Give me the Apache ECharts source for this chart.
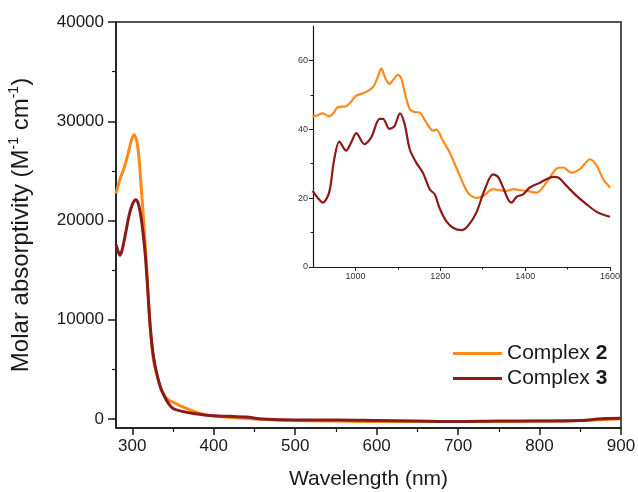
<!DOCTYPE html>
<html>
<head>
<meta charset="utf-8">
<script src="https://cdn.jsdelivr.net/npm/echarts@6/dist/echarts.min.js"></script>
<style>
  html, body { margin: 0; padding: 0; background: #fff; }
  #main { width: 638px; height: 492px; }
</style>
</head>
<body>
<div id="main"></div>
<script>
// main spectrum (280-900 nm)
const wl2 = [280, 285, 290, 295, 299, 302, 305, 308, 311, 314, 317, 320, 323, 326, 330, 335, 340, 345, 350, 360, 370, 380, 390, 400, 420, 450, 500, 550, 600, 650, 700, 750, 800, 850, 880, 900];
const abs2 = [22700, 24200, 25300, 26800, 28100, 28650, 28200, 26500, 23300, 19900, 16200, 11800, 8300, 6000, 4500, 3100, 2300, 1900, 1700, 1300, 950, 650, 450, 300, 150, 0, -150, -200, -250, -250, -250, -250, -200, -150, -50, 30];

const wl3 = [280, 283, 285, 288, 292, 296, 300, 304, 307, 310, 313, 316, 319, 322, 326, 330, 335, 340, 345, 350, 360, 375, 400, 420, 440, 460, 500, 550, 600, 650, 700, 750, 800, 850, 880, 900];
const abs3 = [17600, 16800, 16500, 17200, 18800, 20500, 21600, 22100, 21800, 20700, 18900, 16500, 13000, 9300, 6300, 4600, 3100, 2200, 1500, 1070, 800, 570, 330, 280, 200, 0, -100, -100, -150, -200, -250, -200, -200, -150, 50, 80];

// NIR inset (900-1600 nm)
const nirWl2 = [899, 910, 923, 938, 947, 958, 978, 990, 1000, 1025, 1041, 1052, 1061, 1070, 1080, 1090, 1100, 1108, 1116, 1128, 1140, 1151, 1167, 1183, 1191, 1206, 1222, 1246, 1265, 1285, 1301, 1324, 1340, 1356, 1372, 1390, 1403, 1427, 1450, 1474, 1490, 1509, 1529, 1553, 1569, 1584, 1600];
const nirAbs2 = [43.7, 44.0, 44.6, 43.8, 44.5, 46.4, 46.7, 48.0, 49.6, 50.8, 52.2, 55.0, 57.6, 55.0, 53.2, 54.5, 55.8, 54.8, 50.8, 45.9, 45.0, 44.9, 42.0, 39.6, 39.9, 36.7, 33.3, 26.5, 21.6, 20.1, 20.6, 22.6, 22.3, 22.1, 22.6, 22.3, 22.1, 21.6, 24.5, 28.6, 28.9, 27.4, 28.4, 31.3, 29.4, 25.5, 23.1];

const nirWl3 = [899, 911, 923, 938, 950, 962, 978, 990, 1002, 1021, 1037, 1057, 1065, 1080, 1092, 1105, 1116, 1128, 1143, 1159, 1175, 1187, 1198, 1214, 1230, 1250, 1265, 1285, 1305, 1324, 1336, 1348, 1360, 1368, 1380, 1395, 1411, 1435, 1466, 1478, 1498, 1522, 1545, 1569, 1600];
const nirAbs3 = [22.1, 20.1, 18.7, 21.6, 31.3, 36.4, 33.8, 36.2, 38.9, 35.7, 37.6, 43.0, 43.0, 40.1, 40.9, 44.6, 41.5, 34.2, 30.4, 27.4, 22.6, 21.1, 17.2, 13.3, 11.4, 10.7, 11.9, 15.8, 22.6, 26.9, 26.2, 23.1, 19.6, 18.7, 20.4, 21.1, 23.1, 24.5, 26.2, 26.0, 23.5, 20.6, 18.2, 16.0, 14.6];

const names = ['Complex 2', 'Complex 3'];
const colors = ['#ff8a1c', '#8b1a1a'];

// main axis ticks
const yLabels = [0, 10000, 20000, 30000, 40000];
const yMinor = [5000, 15000, 25000, 35000];
const xLabels = [300, 400, 500, 600, 700, 800, 900];
const xMinor = [350, 450, 550, 650, 750, 850];
// inset ticks
const nirYLabels = [0, 20, 40, 60];
const nirYMinor = [10, 30, 50];
const nirXLabels = [1000, 1200, 1400, 1600];
const nirXMinor = [1100, 1300, 1500];

const zip = (a, b) => a.map((v, i) => [v, b[i]]);
const plain = v => String(v);

const font = 'Liberation Sans, Arial, sans-serif';
const ink = '#1a1a1a';

const chart = echarts.init(document.getElementById('main'));

const baseLine = { lineStyle: { color: ink, width: 1.5 } };

const option = {
  animation: false,
  textStyle: { fontFamily: font },
  grid: [
    { left: 116, top: 22, right: 17, bottom: 64, outerBoundsMode: 'none', show: true, borderColor: ink, borderWidth: 1.5 },
    { left: 313, top: 26, right: 28, bottom: 225, outerBoundsMode: 'none' }
  ],
  legend: {
    orient: 'vertical',
    left: 453,
    top: 341,
    padding: 0,
    itemWidth: 49,
    itemHeight: 3,
    itemGap: 0,
    icon: 'rect',
    data: names,
    formatter: n => n.replace(/(\d)$/, '{b|$1}'),
    textStyle: {
      fontSize: 21, color: ink, fontFamily: font, lineHeight: 25,
      rich: { b: { fontSize: 21, fontWeight: 'bold', color: ink, fontFamily: font, lineHeight: 25 } }
    }
  },
  xAxis: [
    {
      gridIndex: 0, type: 'value', min: 280, max: 900, position: 'bottom',
      name: 'Wavelength (nm)', nameLocation: 'middle', nameGap: 41,
      nameTextStyle: { fontSize: 21, color: ink },
      axisLine: { show: true, onZero: false, ...baseLine },
      axisTick: { show: true, length: 7, customValues: xLabels, lineStyle: { color: ink, width: 1.5 } },
      axisLabel: { customValues: xLabels, formatter: plain, fontSize: 17, color: ink, margin: 10 },
      splitLine: { show: false }
    },
    {
      gridIndex: 0, type: 'value', min: 280, max: 900, position: 'bottom', offset: 0,
      axisLine: { show: false, onZero: false },
      axisTick: { show: true, length: 4, customValues: xMinor, lineStyle: { color: ink, width: 1.2 } },
      axisLabel: { show: false },
      splitLine: { show: false }
    },
    {
      gridIndex: 1, type: 'value', min: 900, max: 1600, position: 'bottom',
      axisLine: { show: true, onZero: false, lineStyle: { color: ink, width: 1.2 } },
      axisTick: { show: true, length: 4, customValues: nirXLabels, lineStyle: { color: ink, width: 1 } },
      axisLabel: { customValues: nirXLabels, formatter: plain, fontSize: 9, color: '#333', margin: 5 },
      splitLine: { show: false }
    },
    {
      gridIndex: 1, type: 'value', min: 900, max: 1600, position: 'bottom', offset: 0,
      axisLine: { show: false, onZero: false },
      axisTick: { show: true, length: 2.5, customValues: nirXMinor, lineStyle: { color: ink, width: 1 } },
      axisLabel: { show: false },
      splitLine: { show: false }
    }
  ],
  yAxis: [
    {
      gridIndex: 0, type: 'value', min: -900, max: 40000, position: 'left',
      name: '{a|Molar absorptivity (M}{s|-1}{a| cm}{s|-1}{a|)}',
      nameLocation: 'middle', nameGap: 81,
      nameTextStyle: {
        rich: {
          a: { fontSize: 24, color: ink, fontFamily: font, lineHeight: 28 },
          s: { fontSize: 14, color: ink, fontFamily: font, verticalAlign: 'top', lineHeight: 28, padding: [0, 0, 10, 0] }
        }
      },
      axisLine: { show: true, onZero: false, ...baseLine },
      axisTick: { show: true, length: 8, customValues: yLabels, lineStyle: { color: ink, width: 1.5 } },
      axisLabel: { customValues: yLabels, formatter: plain, fontSize: 17, color: ink, margin: 12 },
      splitLine: { show: false }
    },
    {
      gridIndex: 0, type: 'value', min: -900, max: 40000, position: 'left', offset: 0,
      axisLine: { show: false, onZero: false },
      axisTick: { show: true, length: 4, customValues: yMinor, lineStyle: { color: ink, width: 1.2 } },
      axisLabel: { show: false },
      splitLine: { show: false }
    },
    {
      gridIndex: 1, type: 'value', min: 0, max: 70, position: 'left',
      axisLine: { show: true, onZero: false, lineStyle: { color: ink, width: 1.2 } },
      axisTick: { show: true, length: 4, customValues: nirYLabels, lineStyle: { color: ink, width: 1 } },
      axisLabel: { customValues: nirYLabels, formatter: plain, fontSize: 9, color: '#333', margin: 5 },
      splitLine: { show: false }
    },
    {
      gridIndex: 1, type: 'value', min: 0, max: 70, position: 'left', offset: 0,
      axisLine: { show: false, onZero: false },
      axisTick: { show: true, length: 2.5, customValues: nirYMinor, lineStyle: { color: ink, width: 1 } },
      axisLabel: { show: false },
      splitLine: { show: false }
    }
  ],
  series: [
    {
      name: names[0], type: 'line', xAxisIndex: 0, yAxisIndex: 0,
      data: zip(wl2, abs2), smooth: 0.3, symbol: 'none',
      lineStyle: { color: colors[0], width: 3 }, itemStyle: { color: colors[0] }
    },
    {
      name: names[1], type: 'line', xAxisIndex: 0, yAxisIndex: 0,
      data: zip(wl3, abs3), smooth: 0.3, symbol: 'none',
      lineStyle: { color: colors[1], width: 3 }, itemStyle: { color: colors[1] }
    },
    {
      name: names[0], type: 'line', xAxisIndex: 2, yAxisIndex: 2,
      data: zip(nirWl2, nirAbs2), smooth: 0.3, symbol: 'none',
      lineStyle: { color: colors[0], width: 2.2 }, itemStyle: { color: colors[0] }
    },
    {
      name: names[1], type: 'line', xAxisIndex: 2, yAxisIndex: 2,
      data: zip(nirWl3, nirAbs3), smooth: 0.3, symbol: 'none',
      lineStyle: { color: colors[1], width: 2.2 }, itemStyle: { color: colors[1] }
    }
  ]
};

chart.setOption(option);
</script>
</body>
</html>
